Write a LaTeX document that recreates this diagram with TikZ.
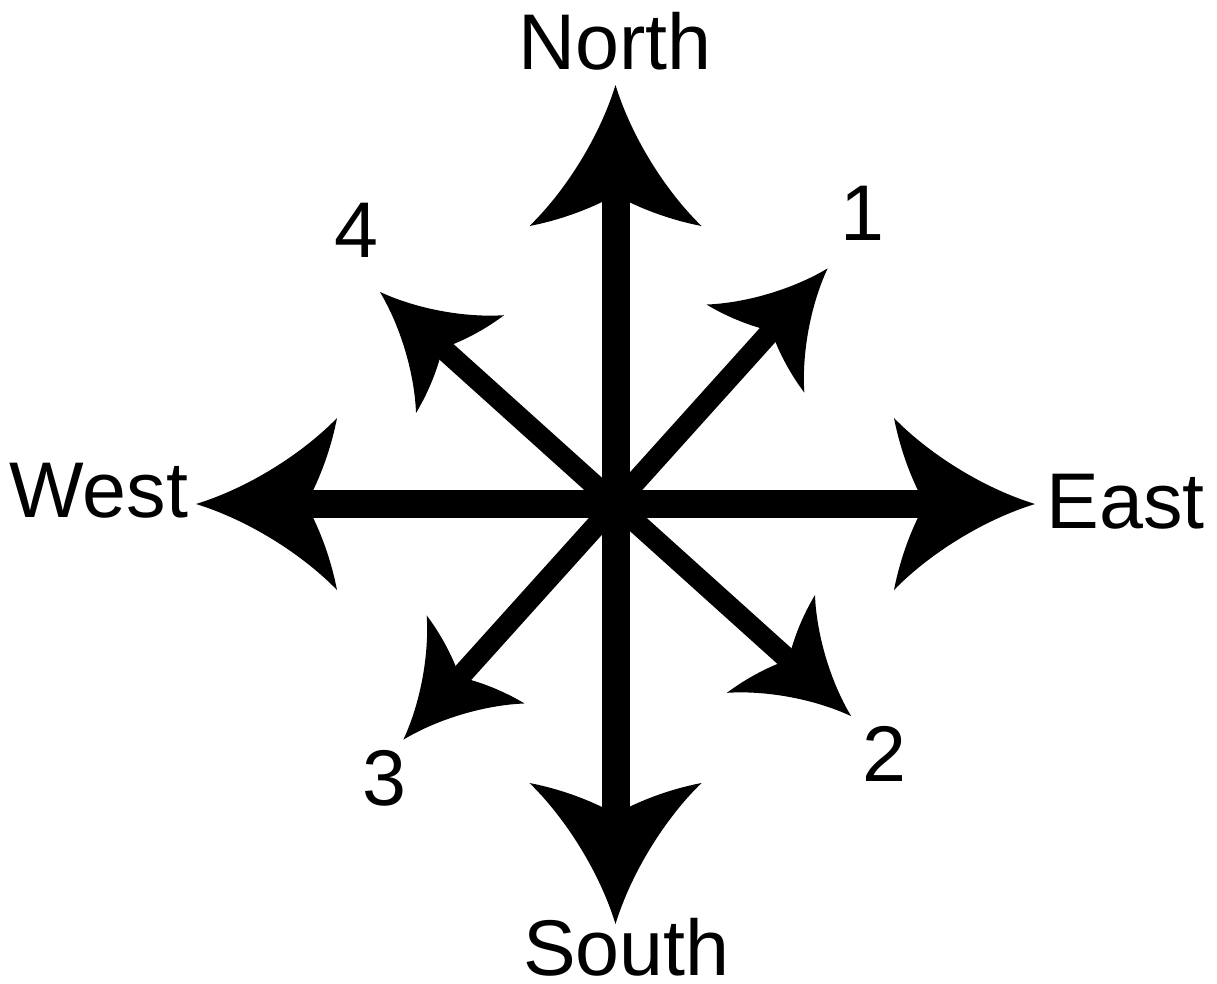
\documentclass[tikz,border=0pt]{standalone}
\usepackage{fontspec}
\setmainfont{Liberation Sans}
\newcommand\headpath{(0,0) .. controls (-52,-16) and (-106,-50) .. (-141,-86)
      .. controls (-136,-60) and (-127,-34) .. (-117,-13.5) -- (-117,13.5)
      .. controls (-127,34) and (-136,60) .. (-141,86)
      .. controls (-106,50) and (-52,16) .. (0,0) -- cycle}
\begin{document}
\begin{tikzpicture}[x=1pt,y=-1pt,
  lab/.style={font=\fontsize{79}{79}\selectfont, inner sep=0pt, anchor=base, text depth=0pt},
  mainshaft/.style={line width=28pt, shorten >=100pt},
  diagshaft/.style={line width=21pt, shorten >=76pt},
  headfill/.style={fill=black, draw=none}
]
\useasboundingbox (0,0) rectangle (1217,983);
\coordinate (c) at (615.5,504);
\coordinate (tN) at (615.5,85);
\coordinate (tS) at (615.5,924);
\coordinate (tE) at (1035,504);
\coordinate (tW) at (196,504);
\coordinate (tNE) at (827.6,268.4);
\coordinate (tNW) at (379.9,291.9);
\coordinate (tSW) at (403.4,739.6);
\coordinate (tSE) at (851.1,716.1);
% shafts
\draw[mainshaft] (c) -- (tN);
\draw[mainshaft] (c) -- (tS);
\draw[mainshaft] (c) -- (tE);
\draw[mainshaft] (c) -- (tW);
\draw[diagshaft] (c) -- (tNE);
\draw[diagshaft] (c) -- (tNW);
\draw[diagshaft] (c) -- (tSW);
\draw[diagshaft] (c) -- (tSE);
% heads
\foreach \t/\a/\s in {tN/90/1, tS/270/1, tE/0/1, tW/180/1,
                      tNE/48/0.765, tNW/138/0.765, tSW/228/0.765, tSE/318/0.765}{
  \begin{scope}[shift={(\t)}, rotate=\a, scale=\s]
    \path[headfill] \headpath;
  \end{scope}
}
% labels
\node[lab] (north) at (615,69) {North};
\node[lab] (south) at (626.5,975) {South};
\node[lab] (west) at (99,517) {West};
\node[lab] (east) at (1125.5,528) {East};
\node[lab] (one) at (862,240) {1};
\node[lab] (two) at (884,781) {2};
\node[lab] (three) at (384,805) {3};
\node[lab] (four) at (356,257) {4};
\end{tikzpicture}
\end{document}
